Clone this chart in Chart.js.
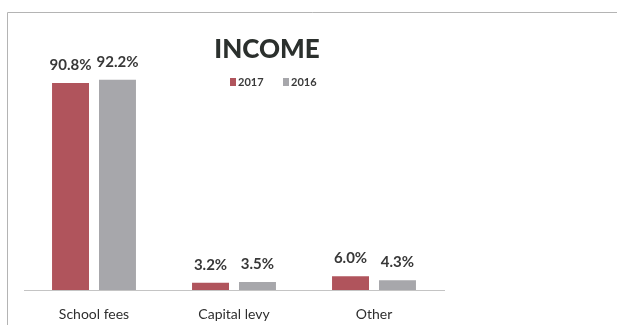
<!DOCTYPE html>
<html>
<head>
<meta charset="utf-8">
<script src="https://cdn.jsdelivr.net/npm/chart.js@4/dist/chart.umd.min.js"></script>
<style>
  html, body { margin: 0; padding: 0; background: #fff; }
  #wrap { width: 617px; height: 325px; position: relative; }
</style>
</head>
<body>
<div id="wrap"><canvas id="incomeChart" width="617" height="325"></canvas></div>
<script>
// income split by source, percent of total
const categories = ['School fees', 'Capital levy', 'Other'];
const income2017 = [90.8, 3.2, 6.0];
const income2016 = [92.2, 3.5, 4.3];
const seriesNames = ['2017', '2016'];

const RED = '#b0545c';
const GREY = '#a7a7ab';
const INK = '#2b302d';
const FONT = 'Lato, "Noto Sans", sans-serif';

// percent labels above each bar
const valueLabels = {
  id: 'valueLabels',
  afterDatasetsDraw(chart) {
    const ctx = chart.ctx;
    ctx.save();
    ctx.font = 'bold 15px ' + FONT;
    ctx.fillStyle = '#383838';
    ctx.textAlign = 'center';
    ctx.textBaseline = 'alphabetic';
    chart.data.datasets.forEach((ds, di) => {
      chart.getDatasetMeta(di).data.forEach((bar, i) => {
        ctx.fillText(ds.data[i].toFixed(1) + '%', bar.x, bar.y - 13);
      });
    });
    ctx.restore();
  }
};

// frame, title and the small legend
const decor = {
  id: 'decor',
  beforeDraw(chart) {
    const ctx = chart.ctx;
    ctx.save();
    ctx.strokeStyle = '#b4b4b4';
    ctx.lineWidth = 1;
    ctx.beginPath();
    ctx.moveTo(7.5, 325);
    ctx.lineTo(7.5, 12.5);
    ctx.lineTo(617, 12.5);
    ctx.stroke();
    ctx.restore();
  },
  afterDraw(chart) {
    const ctx = chart.ctx;
    ctx.save();
    ctx.fillStyle = INK;
    ctx.font = '900 26px ' + FONT;
    ctx.textAlign = 'center';
    ctx.textBaseline = 'alphabetic';
    ctx.fillText('INCOME', 267, 58);

    ctx.font = 'bold 11px ' + FONT;
    ctx.textAlign = 'left';
    ctx.textBaseline = 'middle';
    const legendX = [230, 283];
    chart.data.datasets.forEach((ds, i) => {
      const x = legendX[i];
      ctx.fillStyle = ds.backgroundColor;
      ctx.fillRect(x, 78, 6, 8);
      ctx.fillStyle = '#3a3a3a';
      ctx.fillText(ds.label, x + 8, 82);
    });
    ctx.restore();
  }
};

new Chart(document.getElementById('incomeChart'), {
  type: 'bar',
  data: {
    labels: categories,
    datasets: [
      { label: seriesNames[0], data: income2017, backgroundColor: RED },
      { label: seriesNames[1], data: income2016, backgroundColor: GREY }
    ]
  },
  options: {
    responsive: false,
    animation: false,
    layout: { padding: { left: 24, right: 173, top: 62, bottom: 0 } },
    categoryPercentage: 0.671,
    barPercentage: 0.787,
    plugins: {
      legend: { display: false },
      tooltip: { enabled: false },
      title: { display: false }
    },
    scales: {
      x: {
        grid: { display: false, drawTicks: false },
        border: { display: true, color: '#c4c4c4', dash: [2, 2] },
        ticks: { color: '#2e2e2e', padding: 16, font: { family: FONT, size: 14 } },
        afterFit(scale) { scale.height = 35; }
      },
      y: {
        display: false,
        min: 0,
        max: 100
      }
    }
  },
  plugins: [valueLabels, decor]
});
</script>
</body>
</html>
